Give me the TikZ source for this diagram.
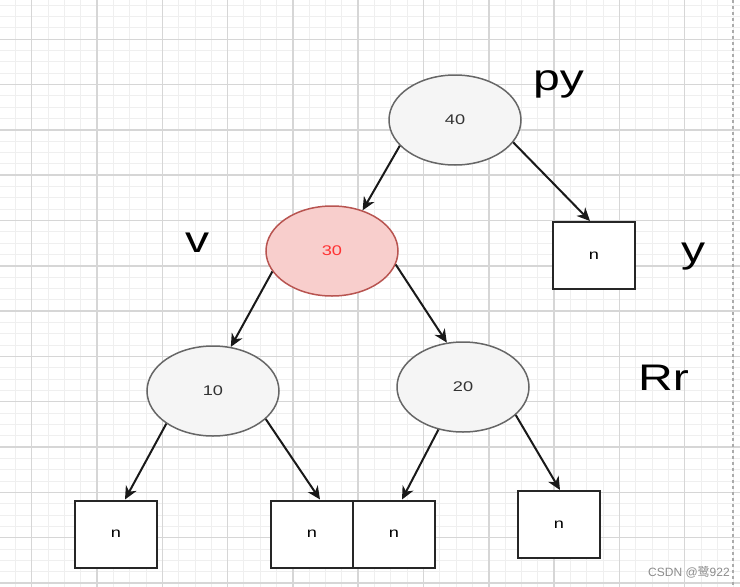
\documentclass[tikz,border=0pt]{standalone}
\usepackage{fontspec}
\setmainfont{Liberation Sans}
\newfontfamily\cjkfont{Noto Sans CJK SC}
\usetikzlibrary{shapes.geometric,arrows.meta}
\definecolor{gridmajor}{HTML}{D6D6D6}
\definecolor{gridminor}{HTML}{EFEFEF}
\definecolor{nodefill}{HTML}{F5F5F5}
\definecolor{nodeline}{HTML}{666666}
\definecolor{redfill}{HTML}{F8CECC}
\definecolor{redline}{HTML}{B85450}
\definecolor{redtext}{HTML}{FF3333}
\newcommand{\widetext}[1]{\scalebox{1.3}[1]{#1}}

\begin{document}
\begin{tikzpicture}[x=1pt, y=-1pt,
    treenode/.style={ellipse, draw=nodeline, fill=nodefill, line width=1.5pt,
        minimum width=132pt, minimum height=90pt, inner sep=0pt,
        font=\fontsize{14}{16}\selectfont, text=black!80},
    nilbox/.style={rectangle, draw=black!85, fill=white, line width=2pt,
        minimum width=82pt, minimum height=67pt, inner sep=0pt,
        font=\fontsize{14}{16}\selectfont},
    biglabel/.style={font=\fontsize{37}{40}\selectfont, anchor=base west, inner sep=0pt},
    edge/.style={line width=2pt, black!90, -{Stealth[length=13pt, width=12pt, inset=4pt]}}]
    \useasboundingbox (0,0) rectangle (740,587);
    \fill[white] (0,0) rectangle (740,587);
    \foreach \j in {-1,...,43}
        \draw[gridminor, line width=1pt] ({31.7+16.33*\j},0) -- ({31.7+16.33*\j},587);
    \foreach \j in {-3,...,48}
        \draw[gridminor, line width=1pt] (0,{39.3+11.33*\j}) -- (740,{39.3+11.33*\j});
    \foreach \k in {0,...,10}
        \draw[gridmajor, line width=1.5pt] ({31.7+65.3*\k},0) -- ({31.7+65.3*\k},587);
    \foreach \k in {0,...,12}
        \draw[gridmajor, line width=1.5pt] (0,{39.3+45.3*\k}) -- (740,{39.3+45.3*\k});
    \draw[gridmajor!80!black, line width=1.5pt, dashed] (733,0) -- (733,587);

    \node[treenode] (n40) at (455,120) {\widetext{40}};
    \node[treenode, fill=redfill, draw=redline, text=redtext] (n30) at (332,251) {\widetext{30}};
    \node[treenode] (n10) at (213,391) {\widetext{10}};
    \node[treenode] (n20) at (463,387) {\widetext{20}};
    \node[nilbox] (ny) at (594,255.5) {\widetext{n}};
    \node[nilbox] (nl1) at (116,534) {\widetext{n}};
    \node[nilbox] (nl2) at (312,534) {\widetext{n}};
    \node[nilbox] (nl3) at (394,534) {\widetext{n}};
    \node[nilbox] (nl4) at (559,524.5) {\widetext{n}};

    \draw[edge] (n40.205) -- (n30.53);
    \draw[edge] (n40.339) -- ([xshift=-4pt]ny.north);
    \draw[edge] (n30.199) -- (n10.68);
    \draw[edge] (n30.348) -- (n20.110);
    \draw[edge] (n10.215) -- ([xshift=9pt]nl1.north);
    \draw[edge] (n10.332) -- ([xshift=8pt]nl2.north);
    \draw[edge] (n20.240) -- ([xshift=8pt]nl3.north);
    \draw[edge] (n20.332) -- ([xshift=1pt]nl4.north);

    \node[biglabel] (lpy) at (533,90) {\widetext{py}};
    \node[biglabel] (lv) at (185,252) {\widetext{v}};
    \node[biglabel] (ly) at (681,262) {\widetext{y}};
    \node[biglabel] (lrr) at (638,390) {\widetext{Rr}};
    \node[font=\fontsize{12}{14}\selectfont, text=black!45, anchor=base west, inner sep=0pt]
        (mark) at (648,576) {CSDN @{\cjkfont 鹭}922};
\end{tikzpicture}
\end{document}
